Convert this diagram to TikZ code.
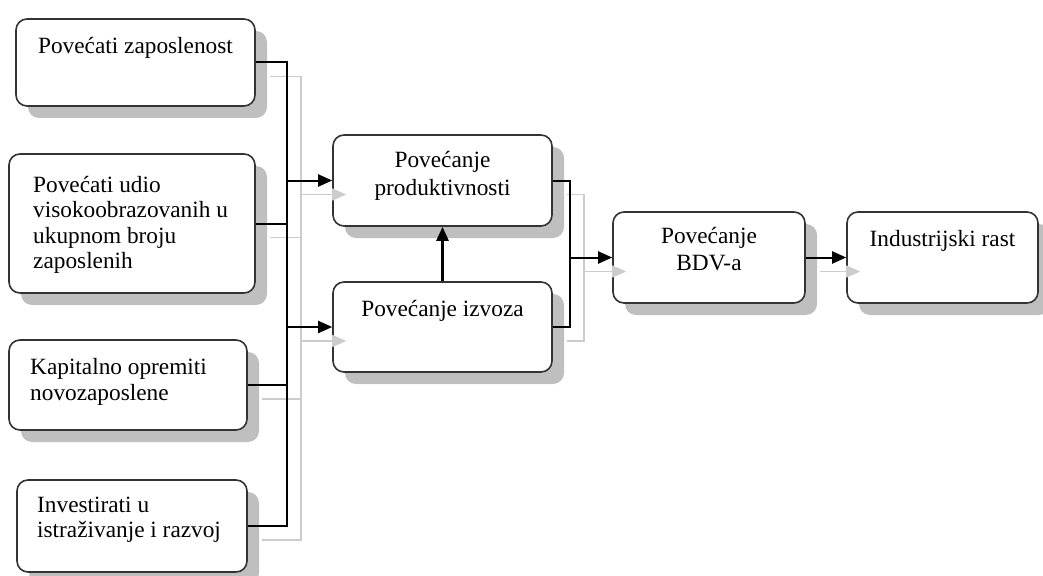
\documentclass[tikz,border=0pt]{standalone}
\usepackage{fontspec}
\setmainfont{Liberation Serif}
\usetikzlibrary{arrows.meta,shadows}
\begin{document}
\begin{tikzpicture}[x=1pt,y=-1pt,
 box/.style={draw=black!80, line width=1.6pt, rounded corners=11pt, fill=white, inner sep=0pt,
   drop shadow={shadow xshift=12pt, shadow yshift=-12pt, fill=black!25, draw=none, opacity=1}},
 txt/.style={font=\fontsize{23.3}{25.5}\selectfont, inner sep=0pt},
 txtw/.style={font=\fontsize{23.3}{27.5}\selectfont, inner sep=0pt},
 conn/.style={line width=2pt, black},
 arr/.style={conn, -{Triangle[length=14pt,width=12pt]}},
 sconn/.style={line width=1.5pt, black!20},
 sarr/.style={sconn, -{Triangle[length=14pt,width=12pt]}},
 sh/.style={shift={(14pt,-14pt)}}]
\useasboundingbox (0,0) rectangle (1043,575);
\clip (0,0) rectangle (1043,575);
% boxes
\node[box, minimum width=239pt, minimum height=87pt] (b1) at (135.5,62.5) {};
\node[box, minimum width=246pt, minimum height=139pt] (b2) at (132,223.5) {};
\node[box, minimum width=238pt, minimum height=90pt] (b3) at (128,385) {};
\node[box, minimum width=230pt, minimum height=92pt] (b4) at (132,526) {};
\node[box, minimum width=219pt, minimum height=91pt] (P) at (442.5,180.5) {};
\node[box, minimum width=219pt, minimum height=90pt] (I) at (442.5,327) {};
\node[box, minimum width=192pt, minimum height=91pt] (D) at (709,257.5) {};
\node[box, minimum width=191pt, minimum height=91pt] (R) at (942.5,257.5) {};
% texts
\node[txt] (t1) at (135.5,47.5) {Povećati zaposlenost};
\node[txt, align=left, anchor=west] (t2) at (33,225) {Povećati udio\\visokoobrazovanih u\\ukupnom broju\\zaposlenih};
\node[txt, align=left, anchor=west] (t3) at (30,382) {Kapitalno opremiti\\novozaposlene};
\node[txt, align=left, anchor=west] (t4) at (37,520) {Investirati u\\istraživanje i razvoj};
\node[txtw, align=center] (tp) at (442.5,176) {Povećanje\\produktivnosti};
\node[txt] (ti) at (442.5,310.5) {Povećanje izvoza};
\node[txtw, align=center] (td) at (709,249) {Povećanje\\BDV-a};
\node[txt] (tr) at (942.5,240.5) {Industrijski rast};
% junction coordinates
\coordinate (bus) at (287,0);
\coordinate (bus2) at (570,0);
\coordinate (j1) at (bus |- b1.east);
\coordinate (j2) at (bus |- b2.east);
\coordinate (j3) at (bus |- b3.east);
\coordinate (j4) at (bus |- b4.east);
\coordinate (jp) at (bus |- P.west);
\coordinate (ji) at (bus |- I.west);
\coordinate (k1) at (bus2 |- P.east);
\coordinate (k2) at (bus2 |- I.east);
\coordinate (kd) at (bus2 |- D.west);
% shadow connectors
\draw[sconn] ([sh]b1.east) -- ([sh]j1) -- ([sh]j4) -- ([sh]b4.east);
\draw[sconn] ([sh]b2.east) -- ([sh]j2);
\draw[sconn] ([sh]b3.east) -- ([sh]j3);
\draw[sarr] ([sh]jp) -- ([sh]P.west);
\draw[sarr] ([sh]ji) -- ([sh]I.west);
\draw[sconn] ([sh]P.east) -- ([sh]k1) -- ([sh]k2) -- ([sh]I.east);
\draw[sarr] ([sh]kd) -- ([sh]D.west);
\draw[sarr] ([sh]D.east) -- ([sh]R.west);
% connectors
\draw[conn] (b1.east) -- (j1) -- (j4) -- (b4.east);
\draw[conn] (b2.east) -- (j2);
\draw[conn] (b3.east) -- (j3);
\draw[arr] (jp) -- (P.west);
\draw[arr] (ji) -- (I.west);
\draw[arr, line width=2.5pt] (I.north) -- (P.south);
\draw[conn] (P.east) -- (k1) -- (k2) -- (I.east);
\draw[arr] (kd) -- (D.west);
\draw[arr] (D.east) -- (R.west);
\end{tikzpicture}
\end{document}
